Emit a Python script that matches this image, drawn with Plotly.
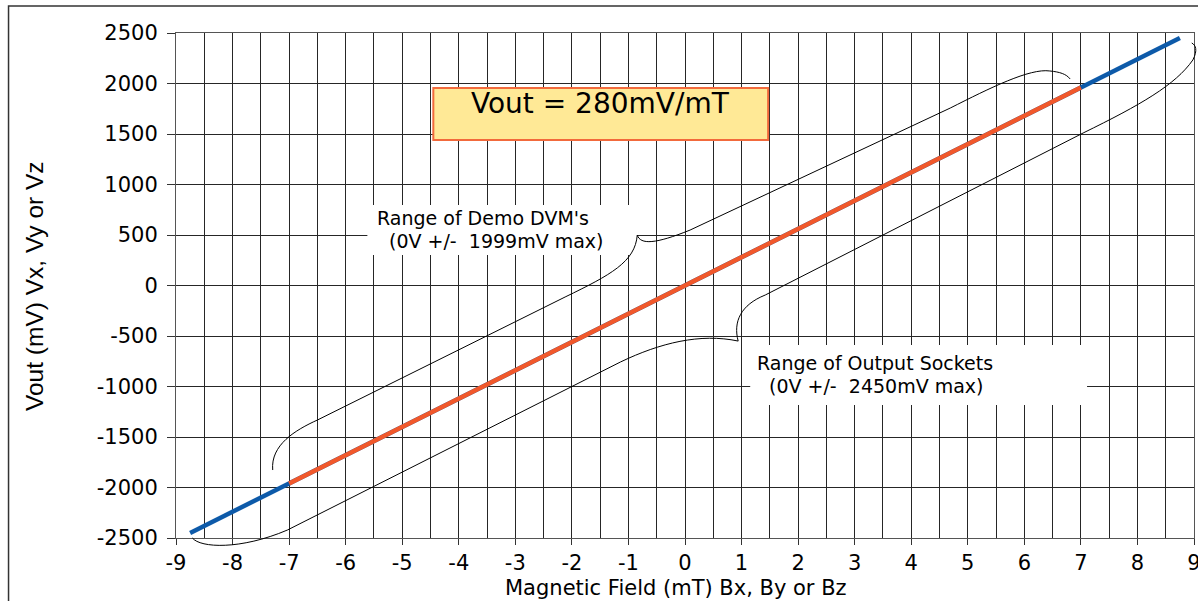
import plotly.graph_objects as go

# ---- data ----
x_ticks = [-9, -8, -7, -6, -5, -4, -3, -2, -1, 0, 1, 2, 3, 4, 5, 6, 7, 8, 9]
y_ticks = [-2500, -2000, -1500, -1000, -500, 0, 500, 1000, 1500, 2000, 2500]
output_range_x = [-8.75, 8.75]      # mT  (full output socket range)
output_range_y = [-2450, 2450]      # mV
dvm_range_x = [-7.0, 7.0]           # mT  (demo DVM range)
dvm_range_y = [-1960, 1960]         # mV

XR = [-9, 9]
YR = [-2500, 2500]

BLUE = "#0D5AA9"
RED = "#F1582B"
GRID = "#262626"
SANS = "DejaVu Sans"

fig = go.Figure()
fig.add_trace(go.Scatter(x=output_range_x, y=output_range_y, mode="lines",
                         line=dict(color=BLUE, width=4.5), showlegend=False, hoverinfo="skip"))
fig.add_trace(go.Scatter(x=dvm_range_x, y=dvm_range_y, mode="lines",
                         line=dict(color=RED, width=4.5), showlegend=False, hoverinfo="skip"))


def to_paper(x, y):
    return ((x - XR[0]) / (XR[1] - XR[0]), (y - YR[0]) / (YR[1] - YR[0]))


def brace_path(segs):
    """segs: list of (cmd, [(x,y),...]) in data units -> SVG path in paper units"""
    out = []
    for cmd, pts in segs:
        coords = " ".join("%.5f,%.5f" % to_paper(px, py) for px, py in pts)
        out.append(cmd + " " + coords)
    return " ".join(out)


# upper-left brace (demo DVM range)
brace_a = brace_path([
    ("M", [(-7.29, -1827)]),
    ("C", [(-7.33, -1579), (-6.89, -1431), (-6.50, -1332)]),
    ("L", [(-2.12, -114)]),
    ("C", [(-1.32, 104), (-0.88, 233), (-0.844, 500)]),
    ("C", [(-0.79, 401), (-0.52, 411), (0.09, 549)]),
    ("L", [(4.69, 1757)]),
    ("C", [(5.39, 1955), (6.10, 2153), (6.45, 2124)]),
    ("C", [(6.63, 2114), (6.74, 2094), (6.81, 2045)]),
])
# lower-right brace (output sockets range)
brace_b = brace_path([
    ("M", [(-8.71, -2500)]),
    ("C", [(-8.57, -2599), (-7.86, -2619), (-7.03, -2421)]),
    ("L", [(-1.14, -757)]),
    ("C", [(-0.44, -569), (0.27, -470), (0.94, -550)]),
    ("C", [(0.85, -361), (0.98, -193), (1.42, -94)]),
    ("L", [(7.04, 1510)]),
    ("C", [(8.05, 1787), (8.67, 1985), (8.98, 2233)]),
    ("C", [(9.07, 2332), (9.03, 2381), (8.96, 2401)]),
])

shapes = [
    # outer chart border
    dict(type="rect", xref="paper", yref="paper", x0=-0.1645, x1=1.01, y0=-0.15, y1=1.0535,
         line=dict(color="#333333", width=1.5), fillcolor="rgba(0,0,0,0)", layer="above"),
    # formula box
    dict(type="rect", xref="x", yref="y", x0=-4.45, x1=1.47, y0=1440, y1=1955,
         line=dict(color="#F26A3C", width=2), fillcolor="#FFE996", layer="above"),
    # white label boxes
    dict(type="rect", xref="x", yref="y", x0=-5.616, x1=-0.844, y0=302, y1=797,
         line=dict(width=0), fillcolor="white", layer="between"),
    dict(type="rect", xref="x", yref="y", x0=1.153, x1=7.109, y0=-1183, y1=-589,
         line=dict(width=0), fillcolor="white", layer="between"),
    dict(type="path", xref="paper", yref="paper", path=brace_a,
         line=dict(color="black", width=1), layer="above"),
    dict(type="path", xref="paper", yref="paper", path=brace_b,
         line=dict(color="black", width=1), layer="above"),
]

NB = "\u00a0"
LBL = dict(family=SANS, size=19, color="black")
annotations = [
    dict(x=-1.49, y=1800, xref="x", yref="y", text="Vout = 280mV/mT", showarrow=False,
         font=dict(family=SANS, size=28, color="black"), xanchor="center", yanchor="middle"),
    dict(x=-5.474, y=668, xref="x", yref="y", text="Range of Demo DVM's", showarrow=False,
         font=LBL, xanchor="left", yanchor="middle"),
    dict(x=-5.262, y=441, xref="x", yref="y", text="(0V +/-" + NB + " 1999mV max)", showarrow=False,
         font=LBL, xanchor="left", yanchor="middle"),
    dict(x=1.242, y=-767, xref="x", yref="y", text="Range of Output Sockets", showarrow=False,
         font=LBL, xanchor="left", yanchor="middle"),
    dict(x=1.454, y=-995, xref="x", yref="y", text="(0V +/-" + NB + " 2450mV max)", showarrow=False,
         font=LBL, xanchor="left", yanchor="middle"),
    # axis titles
    dict(x=-0.139, y=0.5, xref="paper", yref="paper", text="Vout (mV) Vx, Vy or Vz", showarrow=False,
         textangle=-90, font=dict(family="Liberation Sans, Arial", size=24.5, color="black"),
         xanchor="center", yanchor="middle"),
    dict(x=0.491, y=-0.0985, xref="paper", yref="paper", text="Magnetic Field (mT) Bx, By or Bz",
         showarrow=False, font=dict(family=SANS, size=21, color="black"),
         xanchor="center", yanchor="middle"),
    # chart title (mostly outside the visible page, as in the reference)
    dict(x=0.301, y=1.068, xref="paper", yref="paper",
         text="<b>Magnetic Field Sensing Demo Output</b>", showarrow=False,
         font=dict(family="Liberation Serif, Times New Roman, serif", size=22, color="black"),
         xanchor="left", yanchor="bottom"),
]

fig.update_layout(
    width=1198, height=601,
    margin=dict(l=176, r=4, t=33, b=63, autoexpand=False),
    paper_bgcolor="white", plot_bgcolor="white",
    shapes=shapes, annotations=annotations,
    xaxis=dict(range=XR, tickvals=x_ticks, ticktext=[str(v) for v in x_ticks],
               automargin=False,
               showgrid=True, gridcolor=GRID, gridwidth=1,
               minor=dict(dtick=0.5, showgrid=True, gridcolor=GRID, gridwidth=1, ticks=""),
               zeroline=False, showline=True, linecolor="#555555", linewidth=1, mirror=True,
               ticks="outside", ticklen=6, tickcolor="#333333", ticklabeloverflow="allow",
               tickfont=dict(family=SANS, size=21, color="black")),
    yaxis=dict(range=YR, tickvals=y_ticks, ticktext=[str(v) for v in y_ticks],
               automargin=False,
               showgrid=True, gridcolor=GRID, gridwidth=1,
               zeroline=False, showline=True, linecolor="#555555", linewidth=1, mirror=True,
               ticks="outside", ticklen=8, tickcolor="#333333", ticklabelstandoff=5,
               tickfont=dict(family=SANS, size=21, color="black")),
)

fig.write_html("out.html", config={"displayModeBar": False},
               post_script="document.body.style.margin='0';")
